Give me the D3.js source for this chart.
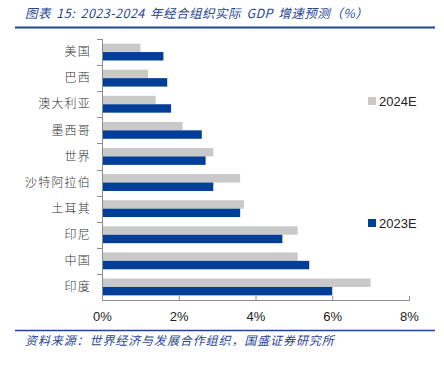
<!DOCTYPE html>
<html>
<head>
<meta charset="utf-8">
<script src="https://cdn.jsdelivr.net/npm/d3@7"></script>
<style>
  body { margin: 0; background: #fff; }
  svg { display: block; }
  text { font-family: "Noto Sans CJK SC", "Noto Sans", sans-serif; }
</style>
</head>
<body>
<div id="chart"></div>
<script>
// categories top to bottom
const countries = ['美国', '巴西', '澳大利亚', '墨西哥', '世界', '沙特阿拉伯', '土耳其', '印尼', '中国', '印度']
const seriesNames = ['2024E', '2023E']
const gdp2024 = [1.0, 1.2, 1.4, 2.1, 2.9, 3.6, 3.7, 5.1, 5.1, 7.0]
const gdp2023 = [1.6, 1.7, 1.8, 2.6, 2.7, 2.9, 3.6, 4.7, 5.4, 6.0]
const xTicks = [0, 2, 4, 6, 8]

const width = 444, height = 366
const colors = { '2024E': '#c9c9c9', '2023E': '#003e97' }
const blue = '#1f4594'

const svg = d3.select('#chart').append('svg')
  .attr('width', width)
  .attr('height', height)

// title + rules
svg.append('text')
  .attr('x', 25).attr('y', 18)
  .attr('font-size', 12.5)
  .attr('font-style', 'italic')
  .attr('fill', blue)
  .style('letter-spacing', '0.5px')
  .style('word-spacing', '2px')
  .text('图表 15:  2023-2024 年经合组织实际 GDP 增速预测（%）')

svg.append('line')
  .attr('x1', 15).attr('x2', 435).attr('y1', 27.5).attr('y2', 27.5)
  .attr('stroke', blue).attr('stroke-width', 2)

svg.append('line')
  .attr('x1', 15).attr('x2', 435).attr('y1', 330.5).attr('y2', 330.5)
  .attr('stroke', blue).attr('stroke-width', 1.5)

svg.append('text')
  .attr('x', 25).attr('y', 345)
  .attr('font-size', 12)
  .attr('font-style', 'italic')
  .attr('fill', blue)
  .style('letter-spacing', '0.9px')
  .text('资料来源：世界经济与发展合作组织，国盛证券研究所')

// scales
const x = d3.scaleLinear().domain([0, 8]).range([102, 409])
const y = d3.scaleBand().domain(countries).range([39, 300]).padding(0)
const ySub = d3.scaleBand().domain(seriesNames).range([0, y.bandwidth()]).paddingOuter(0.55).paddingInner(0)

const rows = countries.map((c, i) => ({ country: c, values: { '2024E': gdp2024[i], '2023E': gdp2023[i] } }))

const groups = svg.append('g').selectAll('g')
  .data(rows)
  .join('g')
    .attr('transform', d => 'translate(0,' + y(d.country) + ')')

groups.selectAll('rect')
  .data(d => seriesNames.map(s => ({ key: s, value: d.values[s] })))
  .join('rect')
    .attr('x', x(0))
    .attr('y', d => ySub(d.key))
    .attr('width', d => x(d.value) - x(0))
    .attr('height', ySub.bandwidth())
    .attr('fill', d => colors[d.key])

// left axis with ticks at band edges
const yAxis = svg.append('g')
yAxis.append('line')
  .attr('x1', x(0) + 0.5).attr('x2', x(0) + 0.5)
  .attr('y1', 39).attr('y2', 300)
  .attr('stroke', '#8c8c8c')
yAxis.selectAll('.edge')
  .data(countries)
  .join('line')
    .attr('class', 'edge')
    .attr('x1', x(0) - 5).attr('x2', x(0))
    .attr('y1', d => Math.round(y(d)) + 0.5)
    .attr('y2', d => Math.round(y(d)) + 0.5)
    .attr('stroke', '#8c8c8c')
yAxis.selectAll('.lbl')
  .data(countries)
  .join('text')
    .attr('class', 'lbl')
    .attr('x', 91)
    .attr('y', d => y(d) + y.bandwidth() / 2)
    .attr('dy', '0.35em')
    .attr('text-anchor', 'end')
    .attr('font-size', 12)
    .attr('font-weight', 300)
    .attr('fill', '#333')
    .style('letter-spacing', '1.2px')
    .text(d => d)

// bottom axis
const xAxis = svg.append('g')
  .attr('transform', 'translate(0,300)')
  .call(d3.axisBottom(x).tickValues(xTicks).tickFormat(d => d + '%').tickSize(-4).tickPadding(12))
xAxis.select('.domain').attr('stroke', '#8c8c8c')
xAxis.selectAll('.tick line').attr('stroke', '#8c8c8c')
xAxis.selectAll('.tick text')
  .attr('font-size', 13)
  .attr('fill', '#222')
  .style('font-family', '"Liberation Sans", "DejaVu Sans", sans-serif')

// legend
const legendPos = { '2024E': 101, '2023E': 223 }
const legend = svg.append('g').selectAll('g')
  .data(seriesNames)
  .join('g')
    .attr('transform', d => 'translate(368,' + legendPos[d] + ')')
legend.append('rect')
  .attr('x', 0).attr('y', -4)
  .attr('width', 8).attr('height', 8)
  .attr('fill', d => colors[d])
legend.append('text')
  .attr('x', 11).attr('dy', '0.36em')
  .attr('font-size', 13)
  .attr('fill', '#222')
  .style('font-family', '"Liberation Sans", "DejaVu Sans", sans-serif')
  .text(d => d)
</script>
</body>
</html>
